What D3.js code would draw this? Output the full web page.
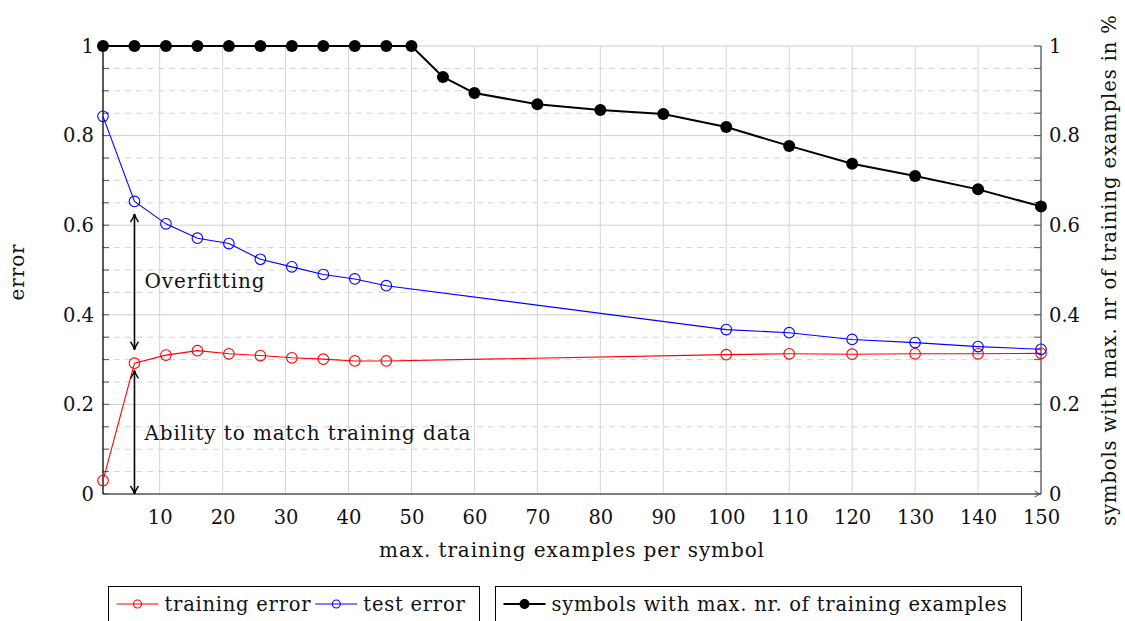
<!DOCTYPE html>
<html>
<head>
<meta charset="utf-8">
<script src="https://cdn.jsdelivr.net/npm/d3@7"></script>
<style>
	body { margin: 0; background: #fff; }
	svg text { font-family: "DejaVu Serif", "Liberation Serif", serif; fill: #111; }
	svg text.label { letter-spacing: 0.9px; }
	svg text.legend { letter-spacing: 0.75px; }
</style>
</head>
<body>
<div id="chart"></div>
<script>

// x positions of the measurements
const errorX = [1, 6, 11, 16, 21, 26, 31, 36, 41, 46, 100, 110, 120, 130, 140, 150];
const trainingError = [0.030, 0.292, 0.310, 0.320, 0.313, 0.309, 0.304, 0.301, 0.297, 0.297, 0.311, 0.313, 0.312, 0.313, 0.313, 0.314];
const testError = [0.843, 0.653, 0.603, 0.571, 0.559, 0.524, 0.507, 0.490, 0.480, 0.465, 0.367, 0.360, 0.345, 0.338, 0.329, 0.323];

const symbolsX = [1, 6, 11, 16, 21, 26, 31, 36, 41, 46, 50, 55, 60, 70, 80, 90, 100, 110, 120, 130, 140, 150];
const symbolsShare = [1, 1, 1, 1, 1, 1, 1, 1, 1, 1, 1, 0.931, 0.895, 0.870, 0.857, 0.848, 0.819, 0.777, 0.737, 0.710, 0.680, 0.642];

const xTicks = [10, 20, 30, 40, 50, 60, 70, 80, 90, 100, 110, 120, 130, 140, 150];
const yTicks = [0, 0.2, 0.4, 0.6, 0.8, 1];
const yMinorTicks = [0.05, 0.1, 0.15, 0.25, 0.3, 0.35, 0.45, 0.5, 0.55, 0.65, 0.7, 0.75, 0.85, 0.9, 0.95];

// annotation arrows
const annotations = [
	{ x: 6, y0: 0.625, y1: 0.322, label: 'Overfitting', labelY: 0.459 },
	{ x: 6, y0: 0.276, y1: 0.0, label: 'Ability to match training data', labelY: 0.121 }
];

const width = 1125, height = 621;
const plotLeft = 103, plotRight = 1041, plotTop = 46, plotBottom = 494;
const fontSize = 19.5;
const labelSize = 20;

const svg = d3.select('#chart').append('svg')
	.attr('width', width)
	.attr('height', height);

const defs = svg.append('defs');
defs.append('marker')
	.attr('id', 'head')
	.attr('viewBox', '0 0 10 10')
	.attr('refX', 9).attr('refY', 5)
	.attr('markerWidth', 10).attr('markerHeight', 10)
	.attr('markerUnits', 'userSpaceOnUse')
	.attr('orient', 'auto-start-reverse')
	.append('path')
		.attr('d', 'M1,1 Q5,4 9,5 Q5,6 1,9')
		.attr('fill', 'none')
		.attr('stroke', '#000')
		.attr('stroke-width', 1.4);
defs.append('marker')
	.attr('id', 'axisHead')
	.attr('viewBox', '0 0 10 10')
	.attr('refX', 9).attr('refY', 5)
	.attr('markerWidth', 8).attr('markerHeight', 8)
	.attr('markerUnits', 'userSpaceOnUse')
	.attr('orient', 'auto')
	.append('path')
		.attr('d', 'M1,1 Q5,4 9,5 Q5,6 1,9')
		.attr('fill', 'none')
		.attr('stroke', '#555')
		.attr('stroke-width', 1.2);

const x = d3.scaleLinear().domain([1, 150]).range([plotLeft, plotRight]);
const y = d3.scaleLinear().domain([0, 1]).range([plotBottom, plotTop]);
const y2 = d3.scaleLinear().domain([0, 1]).range([plotBottom, plotTop]);

// grid
const grid = svg.append('g');
grid.selectAll('.minor')
	.data(yMinorTicks).enter()
	.append('line')
		.attr('x1', plotLeft).attr('x2', plotRight)
		.attr('y1', d => y(d)).attr('y2', d => y(d))
		.attr('stroke', '#d4d4d4')
		.attr('stroke-dasharray', '6,5');
grid.selectAll('.majorY')
	.data(yTicks.filter(d => d > 0)).enter()
	.append('line')
		.attr('x1', plotLeft).attr('x2', plotRight)
		.attr('y1', d => y(d)).attr('y2', d => y(d))
		.attr('stroke', '#cfcfcf');
grid.selectAll('.majorX')
	.data(xTicks.slice(0, -1)).enter()
	.append('line')
		.attr('x1', d => x(d)).attr('x2', d => x(d))
		.attr('y1', plotTop).attr('y2', plotBottom)
		.attr('stroke', '#d6d6d6');

// axes
const xAxis = svg.append('g')
	.attr('transform', `translate(0,${plotBottom})`)
	.call(d3.axisBottom(x).tickValues(xTicks).tickSize(0).tickPadding(16));
xAxis.select('.domain').remove();
xAxis.selectAll('text').attr('font-size', fontSize);

svg.append('line')
	.attr('x1', plotLeft).attr('x2', plotRight)
	.attr('y1', plotBottom).attr('y2', plotBottom)
	.attr('stroke', '#555').attr('stroke-width', 1.3)
	.attr('marker-end', 'url(#axisHead)');

const yAxis = svg.append('g')
	.attr('transform', `translate(${plotLeft},0)`)
	.call(d3.axisLeft(y).tickValues(yTicks).tickSize(0).tickPadding(9).tickFormat(d3.format('~g')));
yAxis.select('.domain').remove();
yAxis.selectAll('text').attr('font-size', fontSize);

const yAxisRight = svg.append('g')
	.attr('transform', `translate(${plotRight},0)`)
	.call(d3.axisRight(y2).tickValues(yTicks).tickSize(0).tickPadding(8).tickFormat(d3.format('~g')));
yAxisRight.select('.domain').remove();
yAxisRight.selectAll('text').attr('font-size', fontSize);

// axis ticks pointing inwards
const ticks = svg.append('g').attr('stroke', '#555');
ticks.selectAll('.tl')
	.data(yTicks.concat(yMinorTicks)).enter()
	.append('line')
		.attr('x1', plotLeft).attr('x2', plotLeft + 6)
		.attr('y1', d => y(d)).attr('y2', d => y(d));
ticks.selectAll('.tr')
	.data(yTicks.concat(yMinorTicks)).enter()
	.append('line')
		.attr('x1', plotRight - 7).attr('x2', plotRight)
		.attr('y1', d => y2(d)).attr('y2', d => y2(d));

svg.append('line')
	.attr('x1', plotRight).attr('x2', plotRight)
	.attr('y1', plotTop).attr('y2', plotBottom)
	.attr('stroke', '#555').attr('stroke-width', 1.3);
svg.append('line')
	.attr('x1', plotLeft).attr('x2', plotLeft)
	.attr('y1', plotTop).attr('y2', plotBottom)
	.attr('stroke', '#000').attr('stroke-width', 1.3);

// axis labels
svg.append('text')
	.attr('class', 'label')
	.attr('x', 572).attr('y', 557)
	.attr('text-anchor', 'middle')
	.attr('font-size', labelSize)
	.text('max. training examples per symbol');
svg.append('text')
	.attr('class', 'label')
	.attr('transform', `translate(24,272) rotate(-90)`)
	.attr('text-anchor', 'middle')
	.attr('font-size', labelSize)
	.text('error');
svg.append('text')
	.attr('class', 'label')
	.attr('transform', `translate(1116,270) rotate(-90)`)
	.attr('text-anchor', 'middle')
	.attr('font-size', fontSize)
	.text('symbols with max. nr of training examples in %');

// series
const errLine = (values) => d3.line()
	.x((d, i) => x(errorX[i]))
	.y(d => y(d))(values);

const series = [
	{ values: trainingError, color: '#ff0000' },
	{ values: testError, color: '#0000ff' }
];

series.forEach(s => {
	svg.append('path')
		.attr('d', errLine(s.values))
		.attr('fill', 'none')
		.attr('stroke', s.color)
		.attr('stroke-width', 1.1);
	svg.append('g').selectAll('circle')
		.data(s.values).enter()
		.append('circle')
			.attr('cx', (d, i) => x(errorX[i]))
			.attr('cy', d => y(d))
			.attr('r', 5.3)
			.attr('fill', 'none')
			.attr('stroke', s.color)
			.attr('stroke-width', 1.1);
});

svg.append('path')
	.attr('d', d3.line().x((d, i) => x(symbolsX[i])).y(d => y2(d))(symbolsShare))
	.attr('fill', 'none')
	.attr('stroke', '#000')
	.attr('stroke-width', 2);
svg.append('g').selectAll('circle')
	.data(symbolsShare).enter()
	.append('circle')
		.attr('cx', (d, i) => x(symbolsX[i]))
		.attr('cy', d => y2(d))
		.attr('r', 6)
		.attr('fill', '#000');

// annotations
annotations.forEach(a => {
	svg.append('line')
		.attr('x1', x(a.x)).attr('x2', x(a.x))
		.attr('y1', y(a.y0)).attr('y2', y(a.y1))
		.attr('stroke', '#000')
		.attr('stroke-width', 1.6)
		.attr('marker-start', 'url(#head)')
		.attr('marker-end', 'url(#head)');
	svg.append('text')
		.attr('class', 'label')
		.attr('x', x(a.x) + 10)
		.attr('y', y(a.labelY))
		.attr('font-size', labelSize)
		.text(a.label);
});

// legends: items placed one after another
const legendTop = 586.5, ly = 604;
const legendGroups = [
	[
		{ label: 'training error', color: '#ff0000', filled: false },
		{ label: 'test error', color: '#0000ff', filled: false }
	],
	[
		{ label: 'symbols with max. nr. of training examples', color: '#000', filled: true }
	]
];

let cursor = 108.5;
legendGroups.forEach(items => {
	const g = svg.append('g');
	const box = g.append('rect')
		.attr('x', cursor).attr('y', legendTop)
		.attr('height', 50)
		.attr('fill', '#fff').attr('stroke', '#000');
	let ix = cursor + 8;
	items.forEach(item => {
		g.append('line')
			.attr('x1', ix).attr('x2', ix + 42)
			.attr('y1', ly).attr('y2', ly)
			.attr('stroke', item.color)
			.attr('stroke-width', item.filled ? 2 : 1.1);
		g.append('circle')
			.attr('cx', ix + 21).attr('cy', ly)
			.attr('r', item.filled ? 4.5 : 4)
			.attr('fill', item.filled ? item.color : 'none')
			.attr('stroke', item.color)
			.attr('stroke-width', 1.1);
		const t = g.append('text')
			.attr('class', 'legend')
			.attr('x', ix + 48).attr('y', ly + 7)
			.attr('font-size', fontSize)
			.text(item.label);
		ix += 48 + t.node().getComputedTextLength() + 4;
	});
	const w = ix - cursor + 10;
	box.attr('width', w);
	cursor += w + 16;
});

</script>
</body>
</html>
